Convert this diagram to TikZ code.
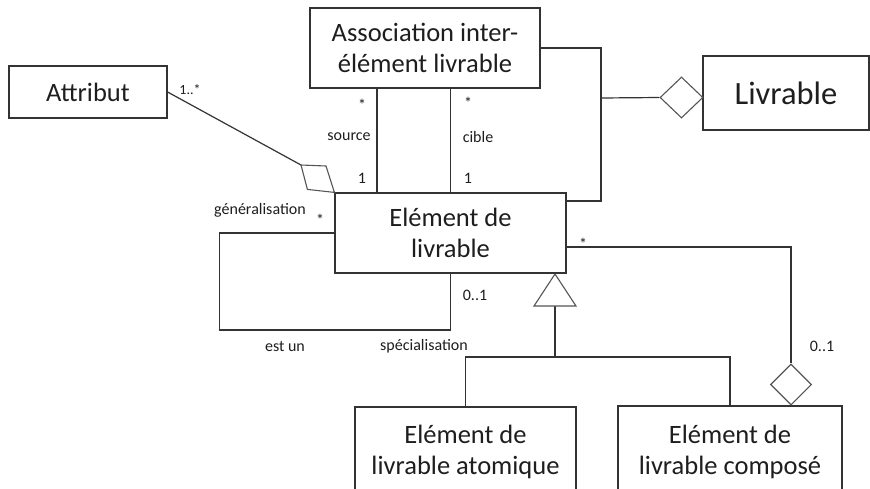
\documentclass[tikz,border=0pt]{standalone}
\usepackage{fontspec}
\setmainfont{Carlito}
\usetikzlibrary{positioning,shapes.geometric}
\definecolor{linegray}{HTML}{333333}
\definecolor{diamgray}{HTML}{555555}
\definecolor{textgray}{HTML}{1E1E1E}
\tikzset{
  classbox/.style={draw=linegray, line width=1.2pt, fill=white, align=center,
    inner sep=0pt, text=textgray, font=\fontsize{26.5}{31}\selectfont},
  role/.style={inner sep=0pt, text=textgray, font=\fontsize{16}{18}\selectfont},
  link/.style={draw=linegray, line width=1.2pt},
  aggdiamond/.style={diamond, draw=diamgray, line width=1.1pt, fill=white, inner sep=0pt},
}

\begin{document}
\begin{tikzpicture}[x=1pt, y=-1pt]
        \clip (0,0) rectangle (870,488);
        \fill[white] (0,0) rectangle (870,488);

        % The classes
        \node[classbox, minimum width=158pt, minimum height=52pt] (attribut) at (88,92) {Attribut};
        \node[classbox, minimum width=230pt, minimum height=80pt] (assoc) at (425,48) {Association inter-\\élément livrable};
        \node[classbox, minimum width=166pt, minimum height=74pt, font=\fontsize{32.5}{38}\selectfont] (livrable) at (786,93) {Livrable};
        \node[classbox, minimum width=231pt, minimum height=80pt] (element) at (450.5,233) {Elément de\\livrable};
        \node[classbox, minimum width=221pt, minimum height=90pt] (atomique) at (465.5,452) {Elément de\\livrable atomique};
        \node[classbox, minimum width=224pt, minimum height=92pt] (compose) at (730,452) {Elément de\\livrable composé};

        % Attribut -- Element (aggregation)
        \coordinate (aggtip) at (301,165);
        \draw[link] (attribut.east) -- (aggtip);
        \draw[draw=diamgray, line width=1.1pt, fill=white] (element.north west) -- ++(-27,-3) -- (aggtip) -- ++(25,1) -- cycle;
        \node[role, font=\fontsize{14}{16}\selectfont] (multattr) at (190,90) {1..*};

        % source / cible
        \draw[link] ([xshift=-48pt]assoc.south) -- ([xshift=-73.5pt]element.north);
        \draw[link] (element.north) -- (element.north |- assoc.south);
        \node[role] (srcstar) at (362,105) {*};
        \node[role] (srclabel) at (349,137) {source};
        \node[role] (srcone) at (362,178) {1};
        \node[role] (cibstar) at (468,103) {*};
        \node[role] (ciblabel) at (478,137) {cible};
        \node[role] (cibone) at (468,178) {1};

        % Livrable (aggregation)
        \node[aggdiamond, minimum width=43pt, minimum height=41pt] (livdiam) at (681.5,97.5) {};
        \coordinate (jonction) at (601,98);
        \draw[link] (assoc.east) -| (jonction) |- ([yshift=32pt]element.east);
        \draw[link] (jonction) -- (livdiam.west);

        % generalisation / specialisation
        \draw[link] (element.west) -- ++(-115,0) -- ++(0,97) -| (element.south);
        \node[role] (gener) at (260,210) {généralisation};
        \node[role] (generstar) at (320,220) {*};
        \node[role] (specmult) at (475,295) {0..1};
        \node[role] (estun) at (285,346) {est un};
        \node[role] (spec) at (424,346) {spécialisation};

        % Heritage
        \coordinate (apex) at (555,274);
        \coordinate (base) at (555,306);
        \draw[link] (base) -- ++(0,51) -| (atomique.north);
        \draw[link] (base) -- ++(0,51) -| (compose.north);
        \draw[draw=diamgray, line width=1.1pt, fill=white] (apex) -- ++(-21,32) -- ++(42,0) -- cycle;

        % Composition
        \node[aggdiamond, minimum width=41pt, minimum height=41pt] (compdiam) at (791,384.5) {};
        \draw[link] ([yshift=-14pt]element.east) -| (compdiam.north);
        \node[role] (compstar) at (583,244) {*};
        \node[role] (compmult) at (822,346) {0..1};
\end{tikzpicture}
\end{document}
